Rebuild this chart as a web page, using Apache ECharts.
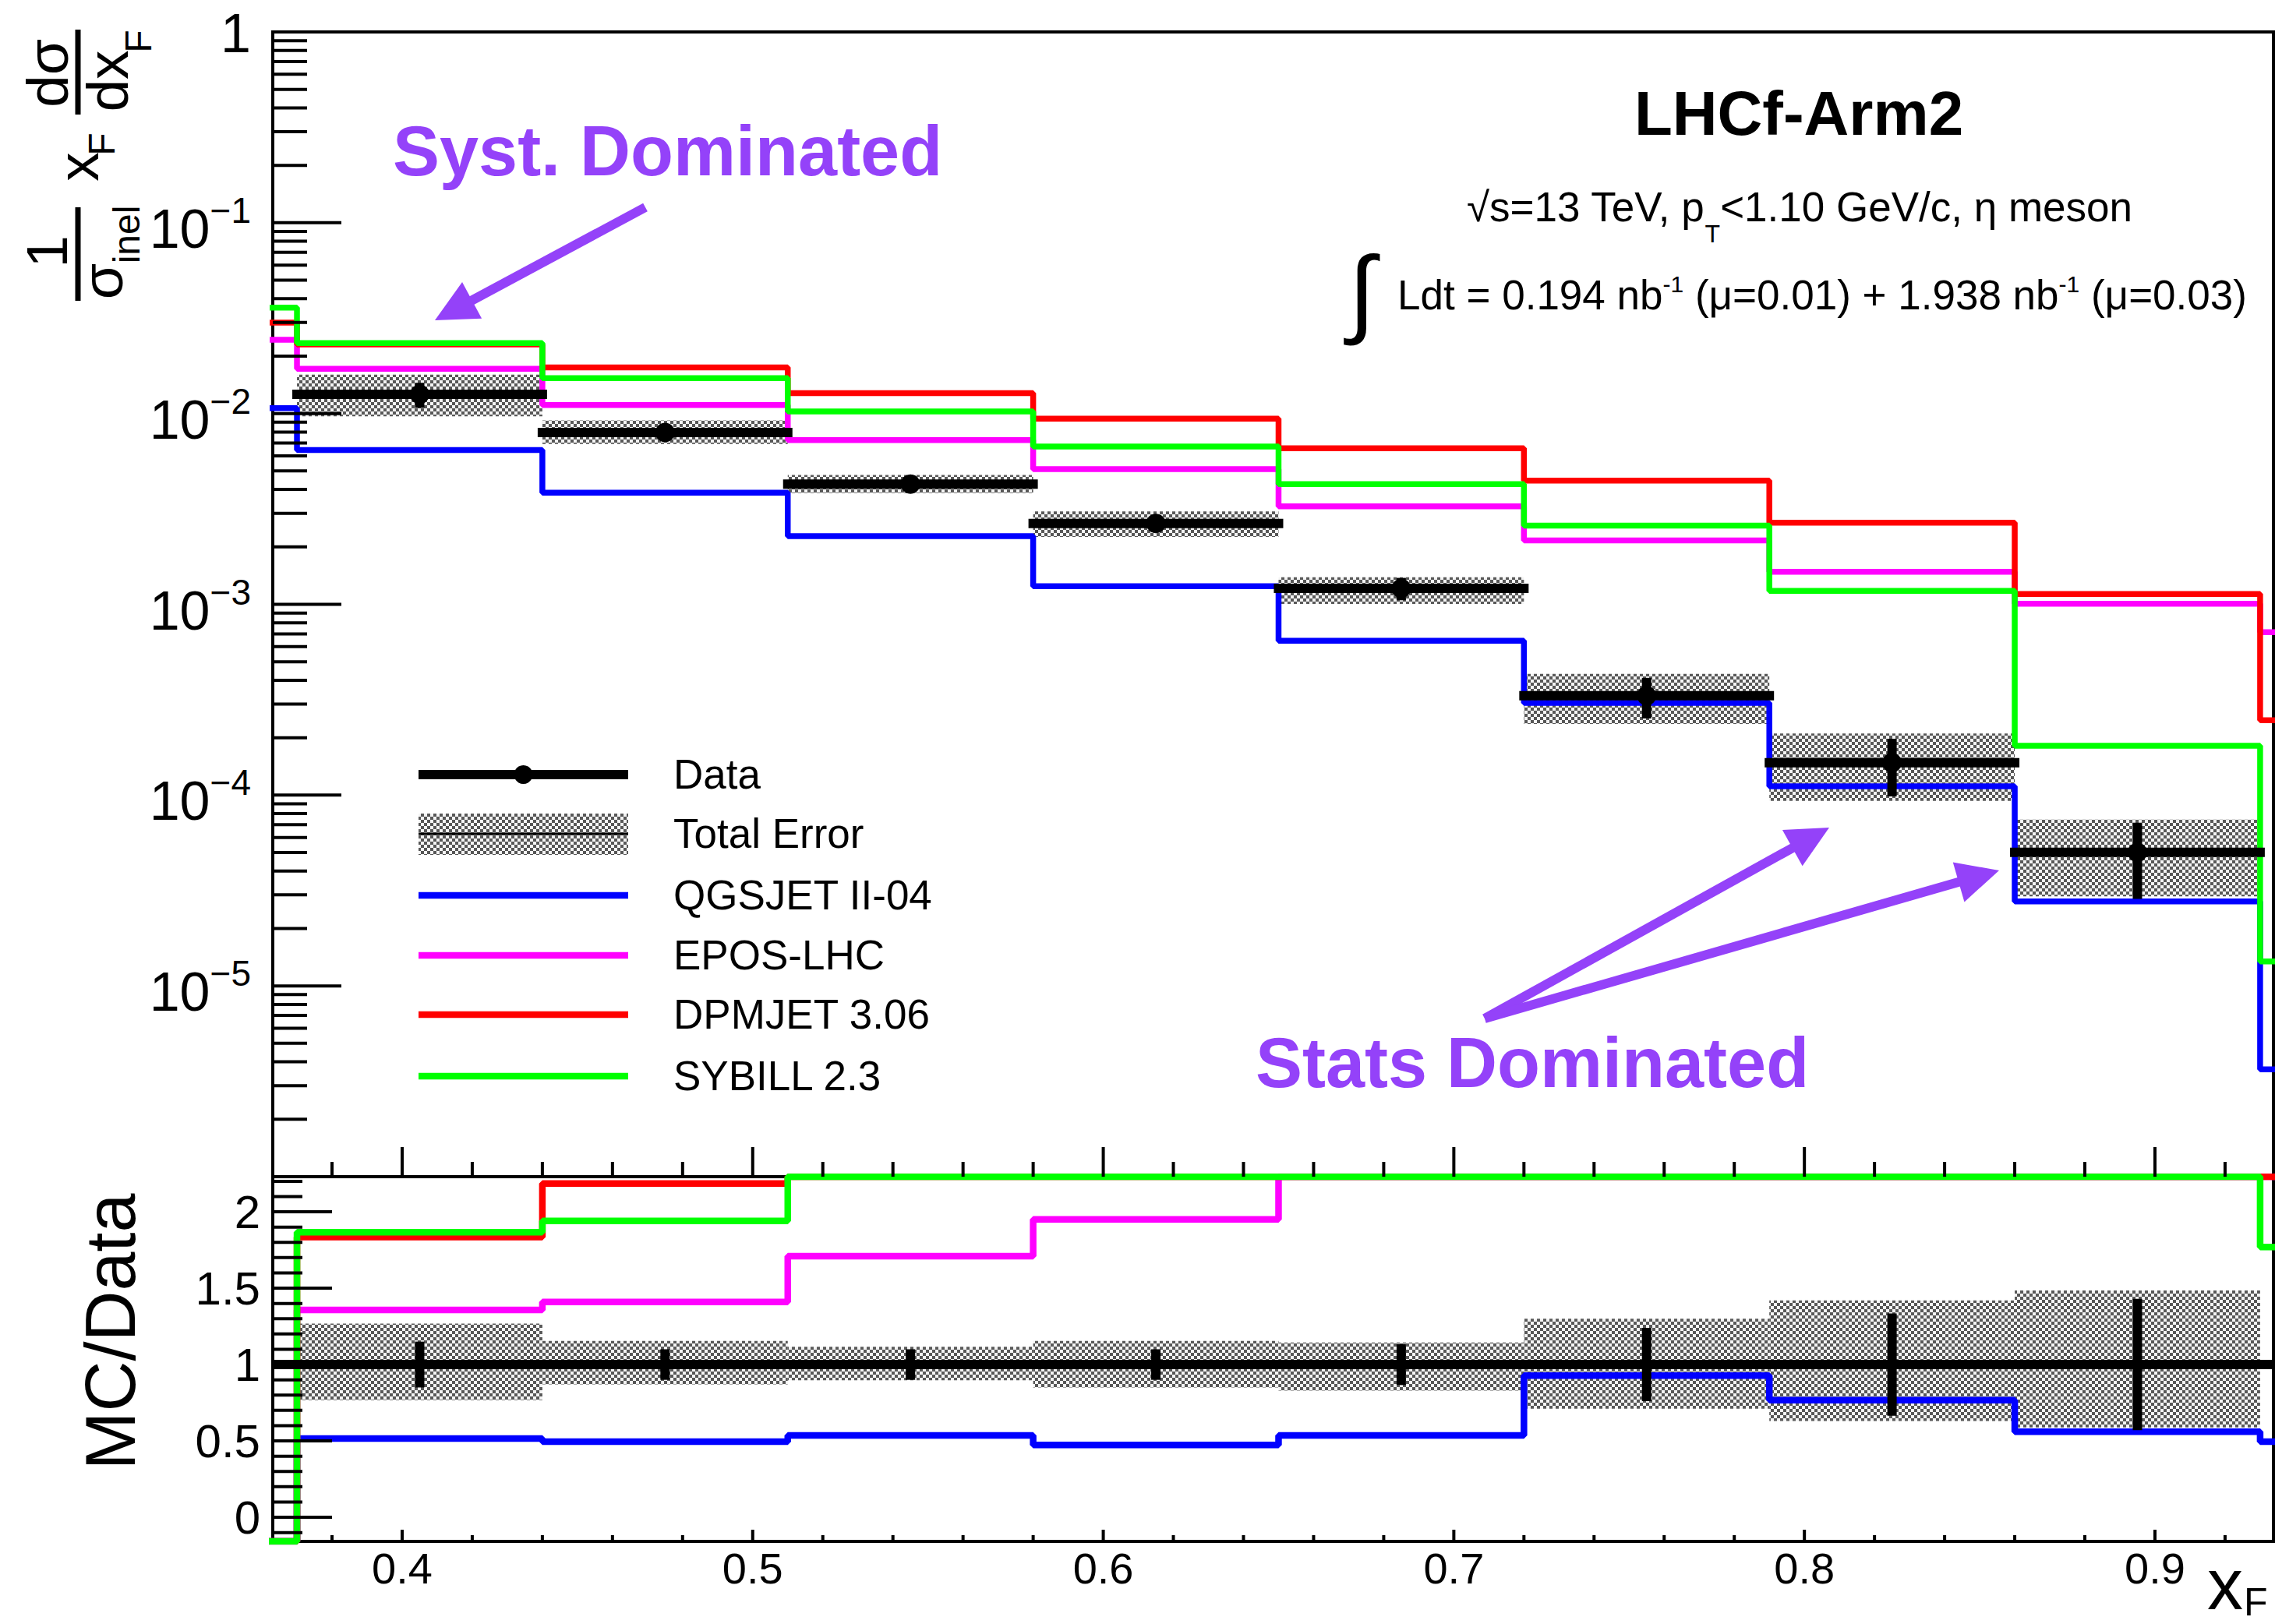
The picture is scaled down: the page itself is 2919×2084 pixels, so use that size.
<!DOCTYPE html>
<html>
<head>
<meta charset="utf-8">
<script src="https://cdn.jsdelivr.net/npm/echarts@6.0.0/dist/echarts.min.js"></script>
<style>
html,body{margin:0;padding:0;background:#fff;}
#chart{width:2919px;height:2084px;}
</style>
</head>
<body>
<div id="chart"></div>
<script>
// ===================== DATA =====================
const binEdges = [0.30, 0.37, 0.44, 0.51, 0.58, 0.65, 0.72, 0.79, 0.86, 0.93, 1.00];

const qgsjet  = [0.01068, 0.00644, 0.00385, 0.002276, 0.001245, 0.000644, 0.000304, 0.0001113, 0.0000277, 0.00000365];
const eposLhc = [0.02435, 0.01715, 0.01107, 0.00726, 0.00511, 0.003266, 0.002161, 0.001482, 0.001008, 0.000714];
const dpmjet  = [0.02995, 0.0230, 0.01743, 0.0128, 0.00939, 0.00658, 0.004448, 0.00268, 0.001134, 0.000247];
const sybill  = [0.0359, 0.02339, 0.01532, 0.01025, 0.00671, 0.00427, 0.002588, 0.001177, 0.0001816, 0.00001345];

const dataCenters = [0.405, 0.475, 0.545, 0.615, 0.685, 0.755, 0.825, 0.895];
const dataValues  = [0.0126, 0.00796, 0.00427, 0.002655, 0.001213, 0.000332, 0.000148, 0.0000501];
const statErrRel  = [0.15, 0.10, 0.10, 0.10, 0.134, 0.24, 0.335, 0.43];
const totErrUpRel = [0.268, 0.155, 0.117, 0.155, 0.144, 0.30, 0.42, 0.485];
const totErrDnRel = [0.233, 0.13, 0.103, 0.15, 0.171, 0.289, 0.37, 0.412];

// MC/Data ratio panel (off-scale values marked with +/-Infinity)
const ratioQgsjet = [-Infinity, 0.515, 0.495, 0.536, 0.474, 0.536, 0.928, 0.767, 0.56, 0.495];
const ratioEpos   = [-Infinity, 1.357, 1.41, 1.71, 1.95, 2.69, 6.51, 10.0, 20.1, Infinity];
const ratioDpmjet = [-Infinity, 1.835, 2.185, 3.0, 3.54, 5.42, 13.4, 18.1, 22.6, Infinity];
const ratioSybill = [-Infinity, 1.866, 1.94, 2.4, 2.53, 3.52, 7.8, 7.95, 3.62, 1.77];

// tick labels
const xTickValues = [0.4, 0.5, 0.6, 0.7, 0.8, 0.9];
const xTickLabels = ['0.4', '0.5', '0.6', '0.7', '0.8', '0.9'];
const logLabelExps = [0, -1, -2, -3, -4, -5];
const ratioTickValues = [0, 0.5, 1, 1.5, 2];
const ratioTickLabels = ['0', '0.5', '1', '1.5', '2'];

const legendNames = ['Data', 'Total Error', 'QGSJET II-04', 'EPOS-LHC', 'DPMJET 3.06', 'SYBILL 2.3'];

// ===================== LAYOUT / STYLE =====================
const X_MIN = 0.3631, X_MAX = 0.9338;
const Y_MIN = 1e-6, Y_MAX = 1;
const R_MIN = -0.158, R_MAX = 2.23;

const FONT = '"Liberation Sans", Arial, Helvetica, sans-serif';
const fnt = (s, w) => (w || 'normal') + ' ' + s + 'px ' + FONT;
const mctx = document.createElement('canvas').getContext('2d');
const measure = (t, f) => { mctx.font = f; return mctx.measureText(t).width; };
const PURPLE = '#9442F9';
const C_QGS = '#0000ff', C_EPOS = '#ff00ff', C_DPM = '#ff0000', C_SYB = '#00ff00';
const LW_TOP = 7.5, LW_RATIO = 8.5;

function txt(x, y, text, size, o) {
  o = o || {};
  const align = o.align || 'left', va = o.va || 'middle';
  return { type: 'text', x: x, y: y, rotation: o.rotation || 0,
    style: { text: text, font: fnt(size, o.weight), fill: o.color || '#000',
      align: align, verticalAlign: va, textAlign: align, textVerticalAlign: va } };
}
function seg(x1, y1, x2, y2, w, c, cap) {
  return { type: 'line', shape: { x1: x1, y1: y1, x2: x2, y2: y2 },
    style: { stroke: c || '#000', lineWidth: w, lineCap: cap || 'butt' } };
}

// checkered hatch pattern
const patCanvas = document.createElement('canvas');
patCanvas.width = 8; patCanvas.height = 8;
const pctx = patCanvas.getContext('2d');
pctx.fillStyle = '#f4f4f4'; pctx.fillRect(0, 0, 8, 8);
pctx.fillStyle = '#585858'; pctx.fillRect(0, 0, 4, 4); pctx.fillRect(4, 4, 4, 4);
const hatch = { image: patCanvas.toDataURL(), repeat: 'repeat', imageWidth: 8, imageHeight: 8 };

const halfW = (binEdges[2] - binEdges[1]) / 2;
const stepData = vals => binEdges.map((e, i) => [e, vals[Math.min(i, vals.length - 1)]]);
const clampR = v => Math.max(R_MIN, Math.min(R_MAX, v));

// tick positions
const xMinor = [];
for (let k = 19; k <= 46; k++) if (k % 5 !== 0) xMinor.push(+(k * 0.02).toFixed(2));
const logMajor = [0, -1, -2, -3, -4, -5, -6].map(e => Math.pow(10, e));
const logMinor = [];
for (let e = -6; e < 0; e++) for (let m = 2; m <= 9; m++) logMinor.push(m * Math.pow(10, e));
const rMinor = [];
for (let k = -1; k <= 22; k++) if (k % 5 !== 0) rMinor.push(k / 10);

// ===================== CHART =====================
const chart = echarts.init(document.getElementById('chart'), null, { renderer: 'svg', width: 2919, height: 2084 });

const axisOff = { axisLine: { show: false }, axisTick: { show: false }, axisLabel: { show: false }, splitLine: { show: false } };

function lineSeries(xi, yi, data, color, width, z) {
  return { type: 'line', xAxisIndex: xi, yAxisIndex: yi, step: 'end', data: data,
    symbol: 'none', showSymbol: false, silent: true, clip: true, z: z || 2,
    lineStyle: { color: color, width: width }, animation: false };
}
function custom(xi, yi, data, render, z, enc) {
  return { type: 'custom', xAxisIndex: xi, yAxisIndex: yi, data: data, silent: true, clip: false,
    z: z || 3, encode: enc || { x: 0, y: 1 }, renderItem: render, animation: false };
}
function bandRender(p, api) {
  const a = api.coord([api.value(0), api.value(3)]);
  const b = api.coord([api.value(1), api.value(2)]);
  return { type: 'rect', shape: { x: a[0], y: a[1], width: b[0] - a[0], height: b[1] - a[1] }, style: { fill: hatch } };
}

const series = [];
// --- top panel: total error band
series.push(custom(0, 0,
  dataCenters.map((c, i) => [c - halfW, c + halfW, dataValues[i] * (1 - totErrDnRel[i]), dataValues[i] * (1 + totErrUpRel[i])]),
  bandRender, 1, { x: [0, 1], y: [2, 3] }));
// --- top panel: MC histograms
series.push(lineSeries(0, 0, stepData(qgsjet), C_QGS, LW_TOP));
series.push(lineSeries(0, 0, stepData(eposLhc), C_EPOS, LW_TOP));
series.push(lineSeries(0, 0, stepData(dpmjet), C_DPM, LW_TOP));
series.push(lineSeries(0, 0, stepData(sybill), C_SYB, LW_TOP));
// --- top panel: data points
series.push(custom(0, 0, dataCenters.map((c, i) => [c, dataValues[i], statErrRel[i]]),
  (p, api) => {
    const c = api.value(0), v = api.value(1), s = api.value(2);
    const pl = api.coord([c - halfW, v]), pr = api.coord([c + halfW, v]), pc = api.coord([c, v]);
    const pu = api.coord([c, v * (1 + s)]), pd = api.coord([c, v * (1 - s)]);
    return { type: 'group', children: [
      seg(pl[0], pl[1], pr[0], pr[1], 12, '#000', 'square'),
      seg(pu[0], pu[1], pd[0], pd[1], 12, '#000'),
      { type: 'circle', shape: { cx: pc[0], cy: pc[1], r: 12.5 }, style: { fill: '#000' } }
    ] };
  }, 4));

// --- ratio panel: band
series.push(custom(1, 1,
  dataCenters.map((c, i) => [c - halfW, c + halfW, 1 - totErrDnRel[i], 1 + totErrUpRel[i]]),
  bandRender, 1, { x: [0, 1], y: [2, 3] }));
// --- ratio panel: reference line at 1 (Data/Data)
series.push({ type: 'line', xAxisIndex: 1, yAxisIndex: 1, data: [[X_MIN, 1], [X_MAX, 1]], symbol: 'none',
  silent: true, z: 4, lineStyle: { color: '#000', width: 12 }, animation: false });
// --- ratio panel: MC/Data
series.push(lineSeries(1, 1, stepData(ratioQgsjet.map(clampR)), C_QGS, LW_RATIO, 2));
series.push(lineSeries(1, 1, stepData(ratioEpos.map(clampR)), C_EPOS, LW_RATIO, 2));
series.push(lineSeries(1, 1, stepData(ratioDpmjet.map(clampR)), C_DPM, LW_RATIO, 2));
series.push(lineSeries(1, 1, stepData(ratioSybill.map(clampR)), C_SYB, LW_RATIO, 2));
// --- ratio panel: stat error bars
series.push(custom(1, 1, dataCenters.map((c, i) => [c, 1, statErrRel[i]]),
  (p, api) => {
    const c = api.value(0), s = api.value(2);
    const pu = api.coord([c, 1 + s]), pd = api.coord([c, 1 - s]);
    return seg(pu[0], pu[1], pd[0], pd[1], 12, '#000');
  }, 4));

// --- ticks
const TW = 4;
series.push(custom(0, 0, logMajor.map(v => [X_MIN, v, 88]).concat(logMinor.map(v => [X_MIN, v, 44])),
  (p, api) => { const q = api.coord([api.value(0), api.value(1)]); return seg(q[0], q[1], q[0] + api.value(2), q[1], TW); }, 5));
series.push(custom(0, 0, xTickValues.map(v => [v, Y_MIN, 38]).concat(xMinor.map(v => [v, Y_MIN, 19])),
  (p, api) => { const q = api.coord([api.value(0), api.value(1)]); return seg(q[0], q[1], q[0], q[1] - api.value(2), TW); }, 5));
series.push(custom(1, 1, ratioTickValues.map(v => [X_MIN, v, 76]).concat(rMinor.map(v => [X_MIN, v, 38])),
  (p, api) => { const q = api.coord([api.value(0), api.value(1)]); return seg(q[0], q[1], q[0] + api.value(2), q[1], TW); }, 5));
series.push(custom(1, 1, xTickValues.map(v => [v, R_MIN, 15]).concat(xMinor.map(v => [v, R_MIN, 8])),
  (p, api) => { const q = api.coord([api.value(0), api.value(1)]); return seg(q[0], q[1], q[0], q[1] - api.value(2), TW); }, 5));

// --- tick labels
series.push(custom(0, 0, logLabelExps.map(e => [X_MIN, Math.pow(10, e), e]),
  (p, api) => {
    const q = api.coord([api.value(0), api.value(1)]), e = api.value(2);
    const xr = q[0] - 28;
    if (e === 0) return txt(xr, q[1] + 2, '1', 70, { align: 'right' });
    const sup = '\u2212' + (-e);
    const ws = measure(sup, fnt(46));
    return { type: 'group', children: [
      txt(xr, q[1] - 16, sup, 46, { align: 'right' }),
      txt(xr - ws, q[1] + 8, '10', 70, { align: 'right' })
    ] };
  }, 6));
series.push(custom(1, 1, ratioTickValues.map((v, i) => [X_MIN, v, i]),
  (p, api) => { const q = api.coord([api.value(0), api.value(1)]); return txt(q[0] - 16, q[1], ratioTickLabels[api.value(2)], 60, { align: 'right' }); }, 6));
series.push(custom(1, 1, xTickValues.map((v, i) => [v, R_MIN, i]),
  (p, api) => { const q = api.coord([api.value(0), api.value(1)]); return txt(q[0], q[1] + 34, xTickLabels[api.value(2)], 56, { align: 'center' }); }, 6));

// ===================== GRAPHIC (titles, legend, annotations) =====================
const g = [];
// y title (rotated): 1/sigma_inel x_F dsigma/dx_F
g.push({ type: 'group', x: 100, y: 400, rotation: Math.PI / 2, children: [
  txt(77, -40, '1', 75, { align: 'center' }),
  seg(14, 0, 134, 0, 7),
  txt(39, 31, '\u03c3', 75, { align: 'center' }),
  txt(99, 62, 'inel', 48, { align: 'center' }),
  txt(186, 0, 'x', 75, { align: 'center' }),
  txt(215, 30, 'F', 48, { align: 'center' }),
  txt(306, -39, 'd\u03c3', 75, { align: 'center' }),
  seg(253, 0, 362, 0, 7),
  txt(296, 38, 'dx', 75, { align: 'center' }),
  txt(347, 77, 'F', 48, { align: 'center' })
] });
// ratio y title
g.push(txt(142, 1709, 'MC/Data', 90, { align: 'center', rotation: Math.PI / 2 }));
// x title (kept fully inside the canvas)
const wx = measure('x', fnt(92));
g.push(txt(2832, 2033, 'x', 92));
g.push(txt(2832 + wx + 1, 2056, 'F', 50));

// legend
const legX0 = 537, legX1 = 806, legTX = 864;
const legY = [994, 1070, 1149, 1226, 1302, 1381];
g.push(seg(legX0, legY[0], legX1, legY[0], 12));
g.push({ type: 'circle', shape: { cx: (legX0 + legX1) / 2, cy: legY[0], r: 12 }, style: { fill: '#000' } });
g.push({ type: 'rect', shape: { x: legX0, y: legY[1] - 26, width: legX1 - legX0, height: 53 }, style: { fill: hatch } });
g.push(seg(legX0, legY[1], legX1, legY[1], 3));
[C_QGS, C_EPOS, C_DPM, C_SYB].forEach((c, i) => g.push(seg(legX0, legY[i + 2], legX1, legY[i + 2], 8.5, c)));
legendNames.forEach((n, i) => g.push(txt(legTX, legY[i] - 1, n, 53)));

// annotations
function arrow(tail, tip, hl, hw, lw) {
  const dx = tip[0] - tail[0], dy = tip[1] - tail[1], L = Math.hypot(dx, dy);
  const ux = dx / L, uy = dy / L, bx = tip[0] - ux * hl, by = tip[1] - uy * hl, px = -uy, py = ux;
  return [
    seg(tail[0], tail[1], bx + ux * 4, by + uy * 4, lw, PURPLE),
    { type: 'polygon', shape: { points: [[tip[0], tip[1]], [bx + px * hw / 2, by + py * hw / 2], [bx - px * hw / 2, by - py * hw / 2]] }, style: { fill: PURPLE } }
  ];
}
g.push(txt(504, 222 - 0.31 * 90, 'Syst. Dominated', 90, { weight: 'bold', color: PURPLE }));
arrow([828, 266], [558, 411], 54, 53, 12).forEach(e => g.push(e));
g.push(txt(1611, 1392 - 0.31 * 90, 'Stats Dominated', 90, { weight: 'bold', color: PURPLE }));
arrow([1905, 1307], [2347, 1062], 54, 53, 12).forEach(e => g.push(e));
arrow([1905, 1307], [2565, 1117], 54, 53, 12).forEach(e => g.push(e));

// info text block
g.push(txt(2308, 170 - 0.31 * 80, 'LHCf-Arm2', 80, { weight: 'bold', align: 'center' }));
function run(pieces, centerX, baseline) {
  const ws = pieces.map(p => measure(p.t, fnt(p.s)));
  const W = ws.reduce((a, b) => a + b, 0);
  let x = centerX - W / 2;
  pieces.forEach((p, i) => { g.push(txt(x, baseline - (p.r || 0) - 0.31 * p.s, p.t, p.s)); x += ws[i]; });
}
run([{ t: '\u221as=13 TeV, p', s: 53 }, { t: 'T', s: 32, r: -28 }, { t: '<1.10 GeV/c, \u03b7 meson', s: 53 }], 2309, 282);
run([{ t: 'Ldt = 0.194 nb', s: 53 }, { t: '-1', s: 30, r: 21 }, { t: ' (\u03bc=0.01) + 1.938 nb', s: 53 },
     { t: '-1', s: 30, r: 21 }, { t: ' (\u03bc=0.03)', s: 53 }], 2338, 395);
g.push(txt(1747, 373, '\u222b', 125, { align: 'center' }));

chart.setOption({
  backgroundColor: '#ffffff',
  animation: false,
  textStyle: { fontFamily: FONT },
  grid: [
    { left: 350, top: 41, width: 2567, height: 1469, show: true, borderColor: '#000', borderWidth: 4, backgroundColor: 'transparent' },
    { left: 350, top: 1510, width: 2567, height: 468, show: true, borderColor: '#000', borderWidth: 4, backgroundColor: 'transparent' }
  ],
  xAxis: [
    Object.assign({ gridIndex: 0, type: 'value', min: X_MIN, max: X_MAX }, axisOff),
    Object.assign({ gridIndex: 1, type: 'value', min: X_MIN, max: X_MAX }, axisOff)
  ],
  yAxis: [
    Object.assign({ gridIndex: 0, type: 'log', logBase: 10, min: Y_MIN, max: Y_MAX }, axisOff),
    Object.assign({ gridIndex: 1, type: 'value', min: R_MIN, max: R_MAX }, axisOff)
  ],
  series: series,
  graphic: { elements: g.map(e => Object.assign({ z: 100 }, e)) }
});
</script>
</body>
</html>
